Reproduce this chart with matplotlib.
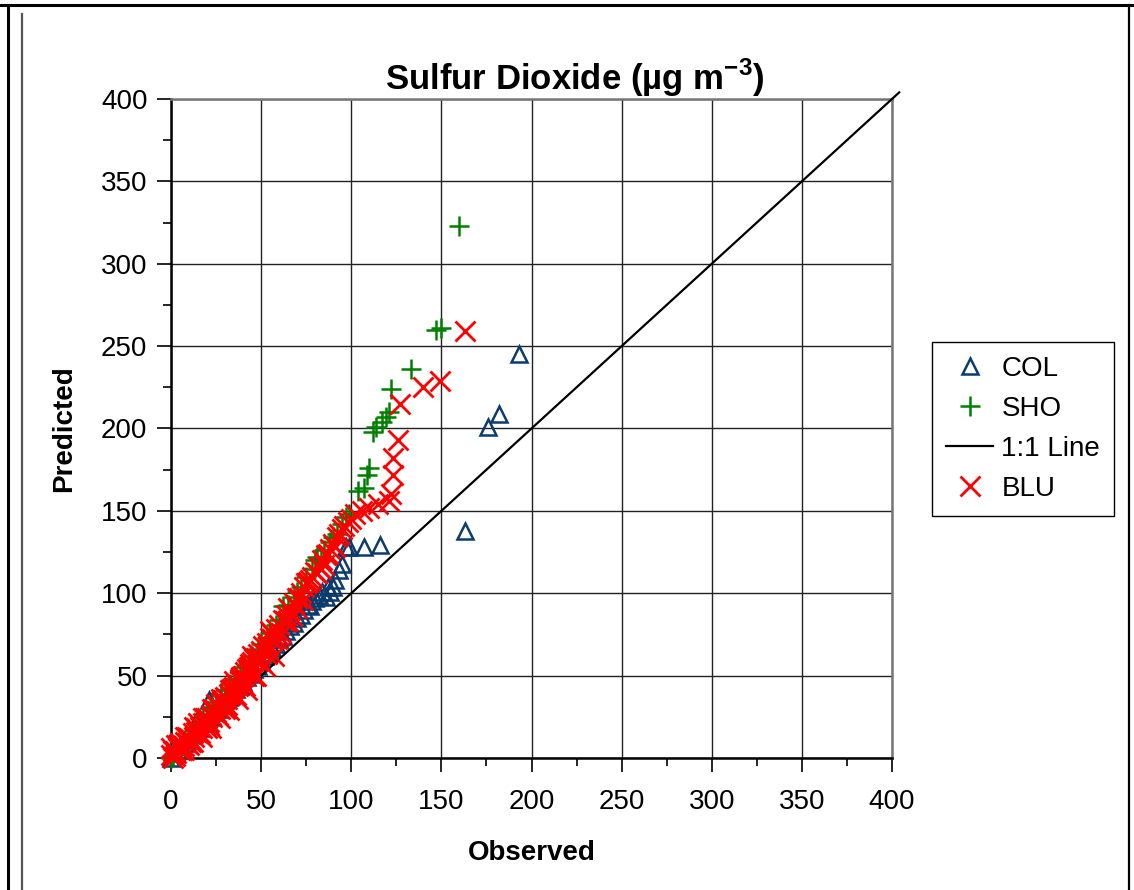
import matplotlib
matplotlib.use("Agg")
import matplotlib.pyplot as plt
from matplotlib.ticker import MultipleLocator

plt.rcParams['font.family'] = ['Liberation Sans', 'DejaVu Sans']
plt.rcParams['mathtext.fontset'] = 'custom'
plt.rcParams['mathtext.bf'] = 'Liberation Sans:bold'
plt.rcParams['mathtext.rm'] = 'Liberation Sans'

# COL site (observed, predicted)
col_obs = [0, 2, 4, 6, 8, 10, 12, 14, 16, 18, 20, 22, 24, 26, 28, 30, 32, 34, 36,
           38, 40, 42, 44, 46, 48, 50, 52, 54, 56, 58, 60, 62, 64, 66, 68, 70, 72,
           74, 76, 77, 78, 80, 82, 84, 86, 87, 88, 90, 91, 93, 95, 97, 99, 107,
           116, 163, 176, 182, 193, 15, 21, 51]
col_pred = [0, 3, 5, 7, 9, 11, 14, 16, 18, 21, 23, 25, 28, 30, 32, 35, 37, 39, 42,
            44, 46, 49, 51, 54, 56, 59, 62, 64, 67, 69, 72, 74, 77, 80, 82, 85, 87,
            90, 93, 92, 95, 97, 99, 101, 98, 104, 101, 104, 108, 114, 118, 128, 128,
            128, 129, 138, 201, 209, 245, 24, 35, 64]

# SHO site
sho_obs = [0, 1, 3, 5, 8, 10, 13, 15, 18, 20, 23, 25, 28, 30, 33, 35, 38, 40, 43,
           45, 48, 50, 53, 55, 58, 60, 62, 65, 68, 70, 72, 75, 78, 80, 81, 83, 85,
           88, 90, 92, 95, 97, 99, 104, 107, 109, 110, 112, 114, 117, 119, 121,
           122, 133, 147, 150, 160]
sho_pred = [0, 1, 5, 7, 11, 13, 17, 20, 24, 27, 31, 34, 38, 41, 45, 48, 52, 55, 59,
            62, 66, 69, 73, 76, 81, 84, 92, 93, 98, 101, 104, 110, 115, 120, 122,
            121, 126, 131, 134, 136, 142, 146, 148, 162, 164, 172, 176, 198, 201,
            204, 207, 210, 224, 236, 260, 261, 323]

# BLU site
blu_obs = [0, 1, 2, 3, 4, 5, 6, 7, 8, 9, 10, 11, 12, 13, 14, 15, 16, 17, 18, 19,
           20, 21, 22, 23, 24, 25, 26, 27, 28, 29, 30, 31, 32, 33, 34, 35, 36, 37,
           38, 39, 40, 41, 42, 43, 44, 45, 46, 47, 48, 50, 51, 53, 55, 56, 58, 60,
           62, 64, 66, 68, 70, 72, 74, 76, 78, 80, 82, 84, 86, 88, 90, 92, 93, 95,
           96, 98, 100, 102, 106, 110, 115, 121, 122, 123, 123, 126, 127, 140, 149,
           163, 5, 10, 15, 20, 25, 30, 35, 40, 45, 50, 55, 60, 65, 70, 75, 85,
           0, 2, 4, 7, 9, 12, 14, 17, 19, 22, 24, 27, 29, 32, 34, 37, 39, 42, 44,
           47, 49, 52, 54, 57, 59, 63, 67, 71, 73, 77, 81, 83, 87, 91,
           1, 3, 6, 8, 11, 13, 16, 18, 21, 23, 26, 28, 31, 33, 36, 38, 41, 43, 46,
           48, 53, 56, 61, 65]
blu_pred = [2, 0, 4, 3, 6, 5, 8, 7, 10, 9, 12, 11, 15, 13, 16, 15, 19, 18, 21, 20,
            24, 22, 26, 25, 28, 28, 31, 30, 34, 33, 37, 36, 39, 38, 42, 43, 45, 44,
            48, 49, 50, 52, 54, 55, 57, 58, 60, 61, 63, 65, 68, 70, 73, 75, 78, 81,
            84, 87, 90, 94, 97, 100, 104, 107, 110, 113, 116, 120, 123, 127, 130,
            134, 136, 139, 141, 143, 145, 148, 150, 152, 154, 156, 160, 172, 182,
            193, 215, 225, 229, 259, 9, 8, 21, 18, 33, 30, 47, 45, 62, 58, 77, 74,
            91, 91, 106, 117,
            6, 1, 8, 5, 13, 10, 18, 13, 24, 18, 30, 24, 35, 29, 42, 36, 47, 41, 55,
            50, 60, 56, 68, 62, 72, 83, 86, 97, 96, 108, 112, 115, 124, 128,
            4, 8, 5, 13, 10, 19, 15, 24, 20, 30, 26, 36, 32, 41, 38, 47, 44, 53, 50,
            59, 63, 72, 76, 83]

line_x = [0, 404]
line_y = [0, 404]

fig = plt.figure(figsize=(11.34, 8.9), dpi=100)
ax = fig.add_axes([0.1508, 0.1483, 0.6358, 0.7405])

ax.plot(col_obs, col_pred, linestyle='none', marker='^', ms=12, mfc='none',
        mec='#0B3C70', mew=1.8, label='COL', clip_on=False, zorder=3)
ax.plot(sho_obs, sho_pred, linestyle='none', marker='+', ms=15, mec='#008000',
        mew=1.8, label='SHO', clip_on=False, zorder=4)
ax.plot(line_x, line_y, color='black', lw=1.6, label='1:1 Line', clip_on=False,
        zorder=5)
ax.plot(blu_obs, blu_pred, linestyle='none', marker='x', ms=14, mec='#FF0000',
        mew=2.0, label='BLU', clip_on=False, zorder=6)

ax.set_xlim(0, 400)
ax.set_ylim(0, 400)
ax.xaxis.set_major_locator(MultipleLocator(50))
ax.yaxis.set_major_locator(MultipleLocator(50))
ax.xaxis.set_minor_locator(MultipleLocator(25))
ax.yaxis.set_minor_locator(MultipleLocator(25))
ax.grid(True, which='major', color='#222222', lw=1.0)
ax.set_axisbelow(True)
ax.tick_params(which='major', direction='out', length=10, width=1.2,
               labelsize=20)
ax.tick_params(axis='x', which='major', pad=12)
ax.tick_params(axis='y', which='major', pad=7)
ax.tick_params(which='minor', direction='out', length=6, width=1.2)
for s in ['left', 'bottom']:
    ax.spines[s].set_color('black')
    ax.spines[s].set_linewidth(1.8)
for s in ['top', 'right']:
    ax.spines[s].set_color('#777777')
    ax.spines[s].set_linewidth(1.8)

fig.text(0.507, 0.912, r'Sulfur Dioxide (µg m$^{\mathbf{-3}}$)', ha='center',
         va='center', fontsize=25, fontweight='bold')
ax.set_xlabel('Observed', fontsize=20, fontweight='bold', labelpad=18)
ax.set_ylabel('Predicted', fontsize=20, fontweight='bold', labelpad=17)

leg = ax.legend(loc='center left', bbox_to_anchor=(932 / 1134, 1 - 429 / 890),
                bbox_transform=fig.transFigure, fontsize=20, frameon=True,
                fancybox=False, edgecolor='black', framealpha=1,
                handlelength=1.7, handletextpad=0.3, labelspacing=0.5,
                borderpad=0.5, borderaxespad=0)
leg.get_frame().set_linewidth(1.0)

# page border lines around the chart
frame = fig.add_axes([0, 0, 1, 1], facecolor='none')
frame.set_xlim(0, 1134)
frame.set_ylim(890, 0)
frame.axis('off')
frame.plot([0, 1134], [5, 5], color='black', lw=2.2)
frame.plot([8, 8], [5, 890], color='black', lw=2.2)
frame.plot([22, 22], [14, 890], color='#555555', lw=1.6)
frame.plot([1129, 1129], [5, 890], color='black', lw=1.6)

fig.savefig('out.png', dpi=100)
